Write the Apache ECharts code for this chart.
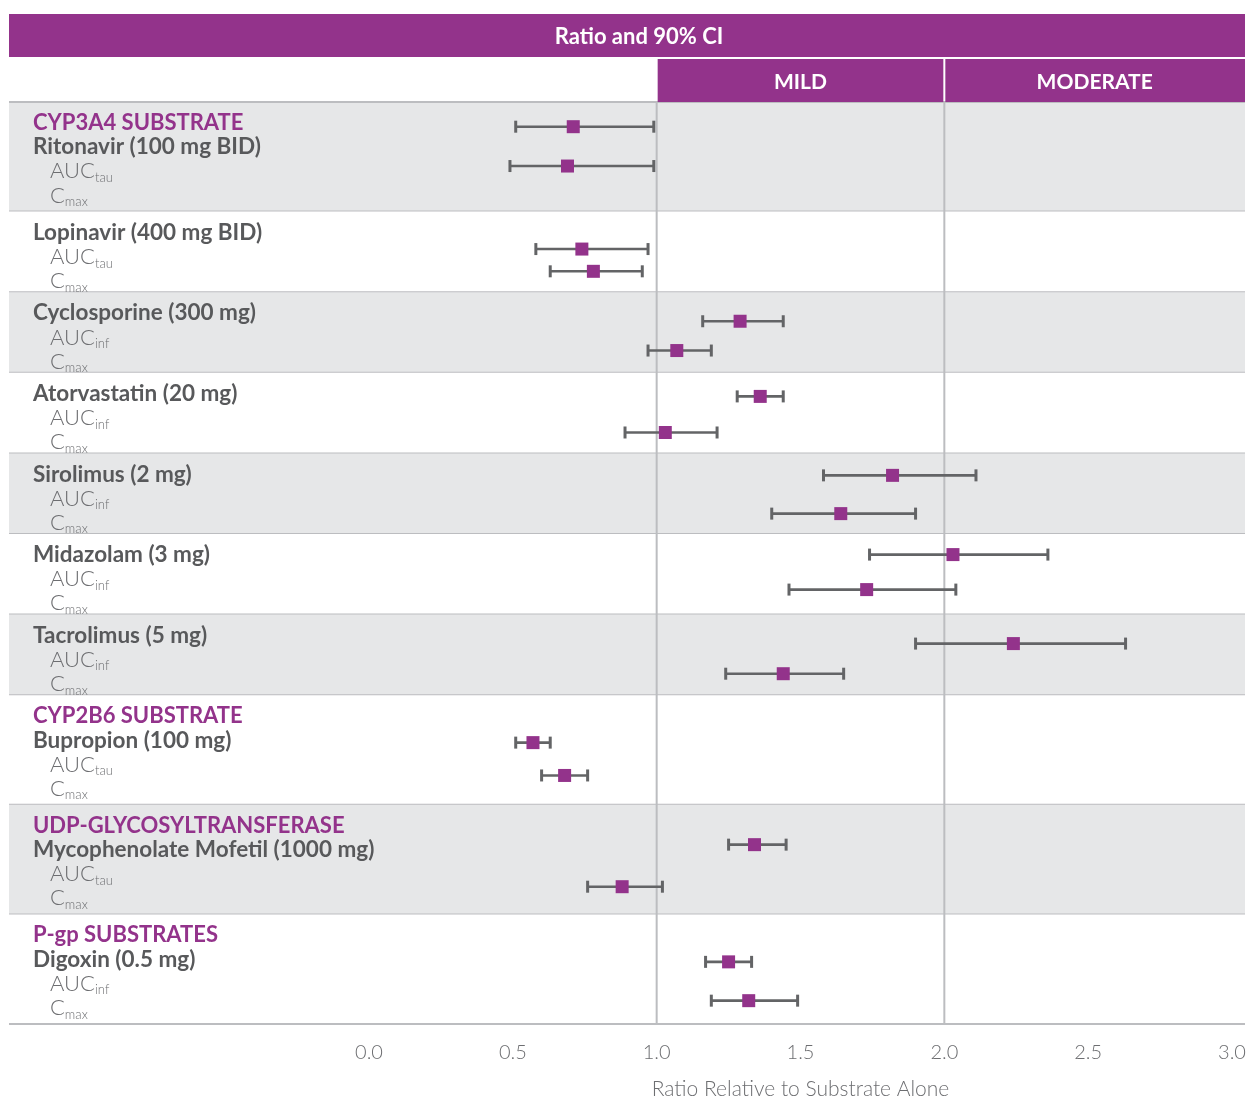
<!DOCTYPE html>
<html>
<head>
<meta charset="utf-8">
<script src="https://cdn.jsdelivr.net/npm/echarts@6/dist/echarts.min.js"></script>
<style>
  html, body { margin: 0; padding: 0; background: #ffffff; }
  #chart { width: 1249px; height: 1097px; }
</style>
</head>
<body>
<div id="chart"></div>
<script>
// ---- data -------------------------------------------------------------
const enzymeGroups = ['CYP3A4 SUBSTRATE', '', '', '', '', '', '', 'CYP2B6 SUBSTRATE', 'UDP-GLYCOSYLTRANSFERASE', 'P-gp SUBSTRATES'];
const drugs = [
  'Ritonavir (100 mg BID)', 'Lopinavir (400 mg BID)', 'Cyclosporine (300 mg)', 'Atorvastatin (20 mg)',
  'Sirolimus (2 mg)', 'Midazolam (3 mg)', 'Tacrolimus (5 mg)', 'Bupropion (100 mg)',
  'Mycophenolate Mofetil (1000 mg)', 'Digoxin (0.5 mg)'
];
const aucSuffix = ['tau', 'tau', 'inf', 'inf', 'inf', 'inf', 'inf', 'tau', 'tau', 'inf'];

const aucRatio  = [0.71, 0.74, 1.29, 1.36, 1.82, 2.03, 2.24, 0.57, 1.34, 1.25];
const aucLow    = [0.51, 0.58, 1.16, 1.28, 1.58, 1.74, 1.90, 0.51, 1.25, 1.17];
const aucHigh   = [0.99, 0.97, 1.44, 1.44, 2.11, 2.36, 2.63, 0.63, 1.45, 1.33];
const cmaxRatio = [0.69, 0.78, 1.07, 1.03, 1.64, 1.73, 1.44, 0.68, 0.88, 1.32];
const cmaxLow   = [0.49, 0.63, 0.97, 0.89, 1.40, 1.46, 1.24, 0.60, 0.76, 1.19];
const cmaxHigh  = [0.99, 0.95, 1.19, 1.21, 1.90, 2.04, 1.65, 0.76, 1.02, 1.49];

const zoneNames = ['MILD', 'MODERATE'];
const zoneStart = [1.0, 2.0];
const headerTitle = 'Ratio and 90% CI';
const axisTitle = 'Ratio Relative to Substrate Alone';

// ---- layout (row units on the hidden y scale) --------------------------
// bands with an enzyme heading hold four text lines, the others three
const bandRows = enzymeGroups.map(g => (g ? 4.04 : 2.97));
const bandTop = [];
bandRows.reduce((acc, n, i) => { bandTop[i] = acc; return acc + n; }, 0);
const totalRows = bandRows.reduce((a, b) => a + b, 0);
const aucRow  = [0.91, 5.42, 8.08, 10.85, 13.76, 16.68, 19.96, 23.61, 27.37, 31.69];
const cmaxRow = [2.36, 6.24, 9.16, 12.18, 15.17, 17.97, 21.07, 24.82, 28.92, 33.12];

// ---- styling ----------------------------------------------------------
const PURPLE = '#93338b';
const BAND_GREY = '#e6e7e8';
const RULE = '#bcbdc0';
const BAR = '#636466';
const DARK = '#58595b';
const MID = '#6d6e71';
const FONT = 'Lato, "Noto Sans", sans-serif';
const FRAME_L = 9, FRAME_R = 1245;
const PLOT_TOP = 102, PLOT_H = 922;

const chart = echarts.init(document.getElementById('chart'), null, { renderer: 'canvas', width: 1249, height: 1097 });

function subLabel(main, sub) {
  return {
    text: '{m|' + main + '}{s|' + sub + '}',
    rich: {
      m: { fontSize: 22, fontFamily: FONT, fontWeight: 300, fill: MID, lineHeight: 26, verticalAlign: 'middle' },
      s: { fontSize: 13, fontFamily: FONT, fontWeight: 300, fill: MID, verticalAlign: 'bottom' }
    }
  };
}

function renderBand(params, api) {
  const i = api.value(3);
  const top = api.coord([0, api.value(1)])[1];
  const bottom = api.coord([0, api.value(2)])[1];
  const children = [
    { type: 'rect', shape: { x: FRAME_L, y: top, width: FRAME_R - FRAME_L, height: bottom - top },
      style: { fill: i % 2 === 0 ? BAND_GREY : '#ffffff' } },
    { type: 'line', shape: { x1: FRAME_L, y1: bottom, x2: FRAME_R, y2: bottom },
      style: { stroke: RULE, lineWidth: 2 } }
  ];
  if (i === 0) {
    children.push({ type: 'line', shape: { x1: FRAME_L, y1: top, x2: FRAME_R, y2: top },
      style: { stroke: RULE, lineWidth: 2 } });
  }
  const lines = [];
  if (enzymeGroups[i]) {
    lines.push({ x: 33, style: { text: enzymeGroups[i], fill: PURPLE, fontSize: 22, fontWeight: 'bold', fontFamily: FONT } });
  }
  lines.push({ x: 33, style: { text: drugs[i], fill: DARK, fontSize: 22.5, fontWeight: 'bold', fontFamily: FONT } });
  lines.push({ x: 50, style: subLabel('AUC', aucSuffix[i]) });
  lines.push({ x: 50, style: subLabel('C', 'max') });
  lines.forEach((ln, k) => {
    const st = Object.assign({ x: ln.x, y: top + 21 + k * 24.2, align: 'left', verticalAlign: 'middle' }, ln.style);
    children.push({ type: 'text', style: st });
  });
  return { type: 'group', children };
}

function renderZone(params, api) {
  const i = api.value(2);
  const last = i === zoneNames.length - 1;
  const x0 = api.coord([api.value(0), 0])[0];
  const yTop = api.coord([0, 0])[1];
  const yBot = api.coord([0, totalRows])[1];
  const x1 = last ? FRAME_R : api.coord([api.value(1), 0])[0];
  return {
    type: 'group',
    children: [
      { type: 'rect', shape: { x: x0 + 1, y: 59, width: x1 - x0 - (last ? 1 : 2), height: 43 },
        style: { fill: PURPLE } },
      { type: 'text', style: { text: zoneNames[i], x: (x0 + x1) / 2, y: 82, align: 'center', verticalAlign: 'middle',
        fill: '#ffffff', fontSize: 21, fontWeight: 'bold', fontFamily: FONT } },
      { type: 'line', shape: { x1: x0, y1: yTop, x2: x0, y2: yBot }, style: { stroke: RULE, lineWidth: 2 } }
    ]
  };
}

function renderErrorBar(params, api) {
  const row = api.value(2);
  const p1 = api.coord([api.value(0), row]);
  const p2 = api.coord([api.value(1), row]);
  const h = 6;
  const cap = { stroke: BAR, lineWidth: 3 };
  return {
    type: 'group',
    children: [
      { type: 'line', shape: { x1: p1[0], y1: p1[1], x2: p2[0], y2: p2[1] }, style: { stroke: BAR, lineWidth: 2.6 } },
      { type: 'line', shape: { x1: p1[0], y1: p1[1] - h, x2: p1[0], y2: p1[1] + h }, style: cap },
      { type: 'line', shape: { x1: p2[0], y1: p2[1] - h, x2: p2[0], y2: p2[1] + h }, style: cap }
    ]
  };
}

const bandData = drugs.map((d, i) => [0, bandTop[i], bandTop[i] + bandRows[i], i]);
const zoneData = zoneNames.map((n, i) => [zoneStart[i], i + 1 < zoneStart.length ? zoneStart[i + 1] : 3, i]);
const barData = [];
const pointData = [];
drugs.forEach((d, i) => {
  barData.push([aucLow[i], aucHigh[i], aucRow[i]]);
  barData.push([cmaxLow[i], cmaxHigh[i], cmaxRow[i]]);
  pointData.push([aucRatio[i], aucRow[i]]);
  pointData.push([cmaxRatio[i], cmaxRow[i]]);
});

chart.setOption({
  animation: false,
  backgroundColor: '#ffffff',
  grid: { left: 369, width: 863, top: PLOT_TOP, height: PLOT_H, containLabel: false, outerBoundsMode: 'none' },
  graphic: [
    { type: 'rect', left: FRAME_L, top: 14, shape: { width: FRAME_R - FRAME_L, height: 43 }, style: { fill: PURPLE }, z: 10 },
    { type: 'text', x: 639, y: 37, z: 11,
      style: { text: headerTitle, align: 'center', verticalAlign: 'middle', fill: '#ffffff', fontSize: 22, fontWeight: 'bold', fontFamily: FONT } }
  ],
  xAxis: {
    type: 'value', min: 0, max: 3, interval: 0.5,
    axisLine: { show: false },
    axisTick: { show: true, length: 10, lineStyle: { color: RULE, width: 2 } },
    splitLine: { show: false },
    axisLabel: { formatter: v => v.toFixed(1), color: MID, fontSize: 20, fontWeight: 300, fontFamily: FONT, margin: 19 },
    name: axisTitle, nameLocation: 'middle', nameGap: 55,
    nameTextStyle: { color: MID, fontSize: 21, fontWeight: 300, fontFamily: FONT }
  },
  yAxis: { type: 'value', min: 0, max: totalRows, inverse: true, show: false },
  series: [
    { type: 'custom', name: 'bands', renderItem: renderBand, data: bandData, encode: { x: 0, y: 1 }, z: 1, silent: true },
    { type: 'custom', name: 'zones', renderItem: renderZone, data: zoneData, encode: { x: 0 }, z: 2, silent: true },
    { type: 'custom', name: '90% CI', renderItem: renderErrorBar, data: barData, encode: { x: [0, 1], y: 2 }, z: 3 },
    { type: 'scatter', name: 'Ratio', data: pointData, symbol: 'rect', symbolSize: 13,
      itemStyle: { color: PURPLE, opacity: 1 }, z: 4 }
  ]
});
</script>
</body>
</html>
